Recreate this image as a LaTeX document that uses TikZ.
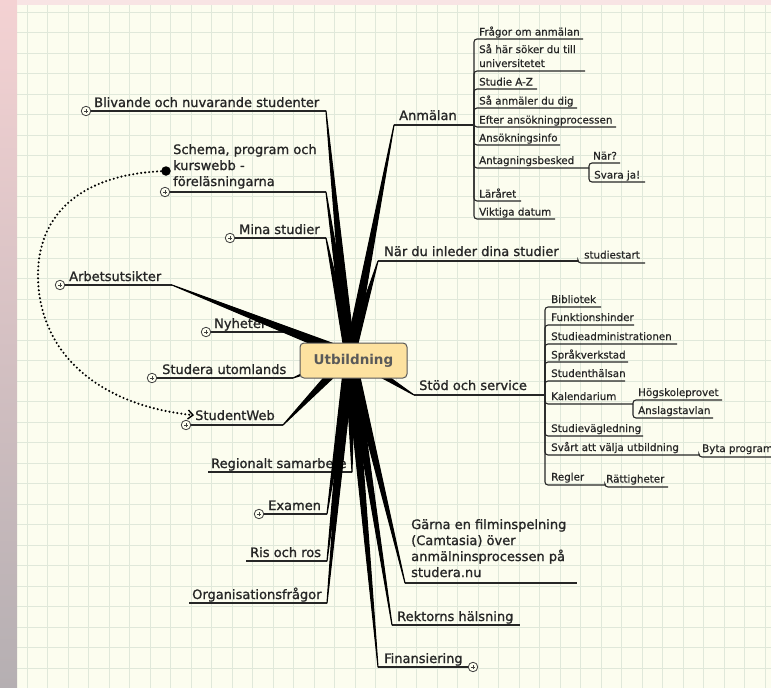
\documentclass[tikz,border=0pt]{standalone}
\usepackage{fontspec}
\setmainfont{DejaVu Sans}
\usetikzlibrary{arrows.meta,calc}
\definecolor{paper}{HTML}{FCFDEF}
\definecolor{gridc}{HTML}{E0E8DA}
\definecolor{hubfill}{HTML}{FDE2A0}
\definecolor{inkc}{HTML}{262626}
\definecolor{pinkedge}{HTML}{F4D2D3}
\definecolor{midedge}{HTML}{E4CBCE}
\definecolor{grayedge}{HTML}{B5AFB2}

\begin{document}
\begin{tikzpicture}[x=1pt, y=-1pt,
    mainlbl/.style={anchor=base west, inner sep=0pt, text=inkc, align=left,
                    font=\fontsize{13}{16}\selectfont\addfontfeatures{FakeBold=1.2}},
    sublbl/.style={anchor=base west, inner sep=0pt, text=inkc, align=left,
                   font=\fontsize{10.3}{14}\selectfont\addfontfeatures{FakeBold=0.6}},
    uline/.style={draw=inkc, line width=1.4pt},
    subline/.style={draw=inkc, line width=1.1pt, rounded corners=3pt},
    fold/.style={circle, draw=black!75, fill=paper, line width=.8pt, minimum size=9.5pt, inner sep=0pt,
                 path picture={\draw[black!75, line width=.7pt]
                   ([xshift=-2pt]path picture bounding box.center) -- ([xshift=2pt]path picture bounding box.center)
                   ([yshift=-2pt]path picture bounding box.center) -- ([yshift=2pt]path picture bounding box.center);}},
    wedge/.style={to path={($(\tikztostart)!5pt!90:(\tikztotarget)$) -- (\tikztotarget)
                           -- ($(\tikztostart)!5pt!-90:(\tikztotarget)$) -- cycle}},
    branch/.style={fill=black, draw=black, line width=1.1pt, line join=round},
    hub/.style={rectangle, rounded corners=4pt, draw=black!65, line width=1pt, fill=hubfill,
                minimum width=107pt, minimum height=35pt, text=black!65, font=\fontsize{13.5}{16}\selectfont\bfseries},
    linkarrow/.style={line width=2.3pt, line cap=round, dash pattern=on 0pt off 4pt,
                      -{Straight Barb[length=5pt, width=9pt, line width=1.4pt]}}
]
\useasboundingbox (0,0) rectangle (771,688);

% paper, grid and the blurred edges
\fill[paper] (0,0) rectangle (771,688);
\foreach \k in {0,...,36} \draw[gridc, line width=.9pt] ({27+20.5*\k},5) -- ({27+20.5*\k},688);
\foreach \k in {0,...,32} \draw[gridc, line width=.9pt] (17,{12.3+20.5*\k}) -- (771,{12.3+20.5*\k});
\shade[top color=pinkedge, middle color=midedge, bottom color=grayedge] (0,0) rectangle (17,688);
\fill[pinkedge!60!white] (17,0) rectangle (771,5);

\coordinate (c) at (350,355);

% left side
\node[mainlbl] (bliv) at (94,107) {Blivande och nuvarande studenter};
\node[fold] (blivF) at (86,111) {};
\coordinate (blivE) at (326,111);
\draw[uline] (blivF) -- (blivE);

\node[mainlbl] (schema) at (173,186) {Schema, program och\\kurswebb -\\föreläsningarna};
\node[fold] (schemaF) at (165,192) {};
\node[circle, fill=black, minimum size=9.5pt, inner sep=0pt] (schemaDot) at (166,171) {};
\coordinate (schemaE) at (326,192);
\draw[uline] (schemaF) -- (schemaE);

\node[mainlbl] (mina) at (239,234) {Mina studier};
\node[fold] (minaF) at (230,238) {};
\coordinate (minaE) at (326,238);
\draw[uline] (minaF) -- (minaE);

\node[mainlbl] (arb) at (69,281) {Arbetsutsikter};
\node[fold] (arbF) at (60,285) {};
\coordinate (arbE) at (172,285);
\draw[uline] (arbF) -- (arbE);

\node[mainlbl] (nyh) at (214,328) {Nyheter};
\node[fold] (nyhF) at (206,332) {};
\coordinate (nyhE) at (292,332);
\draw[uline] (nyhF) -- (nyhE);

\node[mainlbl] (utl) at (162,374) {Studera utomlands};
\node[fold] (utlF) at (152,378) {};
\coordinate (utlE) at (293,378);
\draw[uline] (utlF) -- (utlE);

\node[mainlbl, inner sep=1pt] (sweb) at (194,420) {StudentWeb};
\node[fold] (swebF) at (186,425) {};
\coordinate (swebE) at (283,425);
\draw[uline] (swebF) -- (swebE);

\node[mainlbl] (reg) at (211,468) {Regionalt samarbete};
\coordinate (regS) at (208,472);
\coordinate (regE) at (352,472);
\draw[uline] (regS) -- (regE);

\node[mainlbl] (exa) at (268,510) {Examen};
\node[fold] (exaF) at (259,514) {};
\coordinate (exaE) at (327,514);
\draw[uline] (exaF) -- (exaE);

\node[mainlbl] (ris) at (250,557) {Ris och ros};
\coordinate (risS) at (246,561);
\coordinate (risE) at (327,561);
\draw[uline] (risS) -- (risE);

\node[mainlbl] (org) at (192,599) {Organisationsfrågor};
\coordinate (orgS) at (189,603);
\coordinate (orgE) at (327,603);
\draw[uline] (orgS) -- (orgE);

% right side, bottom
\node[mainlbl] (fin) at (384,663) {Finansiering};
\coordinate (finE) at (378,667);
\node[fold] (finF) at (473,667) {};
\draw[uline] (finE) -- (finF);

\node[mainlbl] (rek) at (397,621) {Rektorns hälsning};
\coordinate (rekE) at (392,625);
\coordinate (rekS) at (520,625);
\draw[uline] (rekE) -- (rekS);

\node[mainlbl] (gar) at (411,577) {Gärna en filminspelning\\(Camtasia) över\\anmälninsprocessen på\\studera.nu};
\coordinate (garE) at (405,583);
\coordinate (garS) at (577,583);
\draw[uline] (garE) -- (garS);

% Anmälan
\node[mainlbl] (anm) at (399,120) {Anmälan};
\coordinate (anmE) at (394,125);
\coordinate (anmB) at (474,125);
\draw[uline] (anmE) -- (anmB);

\node[sublbl] (a1) at (479,35.5) {Frågor om anmälan};
\node[sublbl] (a2) at (479,67) {Så här söker du till\\universitetet};
\node[sublbl] (a3) at (479,85.5) {Studie A-Z};
\node[sublbl] (a4) at (479,104.5) {Så anmäler du dig};
\node[sublbl] (a5) at (479,123.5) {Efter ansökningprocessen};
\node[sublbl] (a6) at (479,141.5) {Ansökningsinfo};
\node[sublbl] (a7) at (479,164) {Antagningsbesked};
\node[sublbl] (a8) at (479,197.5) {Läråret};
\node[sublbl] (a9) at (479,215.5) {Viktiga datum};
\coordinate (a1E) at (583,39);
\coordinate (a2E) at (585,71);
\coordinate (a3E) at (537,89);
\coordinate (a4E) at (577,108);
\coordinate (a5E) at (616,127);
\coordinate (a6E) at (560,145);
\coordinate (a7E) at (589,168);
\coordinate (a8E) at (521,201);
\coordinate (a9E) at (555,219);
\foreach \s in {a1E,a2E,a3E,a4E,a5E,a6E,a7E,a8E,a9E}
  \draw[subline] (anmB) |- (\s);

\node[sublbl] (a71) at (593,159.5) {När?};
\node[sublbl] (a72) at (594,178.5) {Svara ja!};
\coordinate (a71E) at (620,163);
\coordinate (a72E) at (645,182);
\draw[subline] (a7E) |- (a71E);
\draw[subline] (a7E) |- (a72E);

% När du inleder dina studier
\node[mainlbl] (nar) at (384,256) {När du inleder dina studier};
\coordinate (narE) at (378,261);
\coordinate (narB) at (578,261);
\draw[uline] (narE) -- (narB);
\node[sublbl] (start) at (584,258.5) {studiestart};
\coordinate (startE) at (645,263);
\draw[subline] (narB) |- (startE);

% Stöd och service
\node[mainlbl] (sto) at (419,390) {Stöd och service};
\coordinate (stoE) at (414,395);
\coordinate (stoB) at (545,395);
\draw[uline] (stoE) -- (stoB);

\node[sublbl] (s1) at (551,303) {Bibliotek};
\node[sublbl] (s2) at (551,321) {Funktionshinder};
\node[sublbl] (s3) at (551,340) {Studieadministrationen};
\node[sublbl] (s4) at (551,358.5) {Språkverkstad};
\node[sublbl] (s5) at (551,377) {Studenthälsan};
\node[sublbl] (s6) at (551,400) {Kalendarium};
\node[sublbl] (s7) at (551,432) {Studievägledning};
\node[sublbl] (s8) at (551,451) {Svårt att välja utbildning};
\node[sublbl] (s9) at (551,480.5) {Regler};
\coordinate (s1E) at (601,307);
\coordinate (s2E) at (634,325);
\coordinate (s3E) at (677,344);
\coordinate (s4E) at (628,362);
\coordinate (s5E) at (625,381);
\coordinate (s6E) at (633,404);
\coordinate (s7E) at (643,436);
\coordinate (s8E) at (699,455);
\coordinate (s9E) at (605,485);
\foreach \s in {s1E,s2E,s3E,s4E,s5E,s6E,s7E,s8E,s9E}
  \draw[subline] (stoB) |- (\s);

\node[sublbl] (s61) at (638,396) {Högskoleprovet};
\node[sublbl] (s62) at (638,414) {Anslagstavlan};
\coordinate (s61E) at (722,400);
\coordinate (s62E) at (713,418);
\draw[subline] (s6E) |- (s61E);
\draw[subline] (s6E) |- (s62E);

\node[sublbl] (s81) at (702,452) {Byta program};
\coordinate (s81E) at (790,457);
\draw[subline] (s8E) |- (s81E);

\node[sublbl] (s91) at (606,482.5) {Rättigheter};
\coordinate (s91E) at (668,487);
\draw[subline] (s9E) |- (s91E);

% tapered branches from the hub
\foreach \e in {blivE,schemaE,minaE,arbE,nyhE,utlE,swebE,regE,exaE,risE,orgE,
                finE,rekE,garE,anmE,narE,stoE}
  \filldraw[branch] (c) to[wedge] (\e);

\node[hub] (hub) at (353.5,360.5) {Utbildning};

% link from Schema to StudentWeb
\draw[linkarrow] (schemaDot) .. controls (80,175) and (38,215) .. (38,275)
                 .. controls (38,350) and (95,405) .. (sweb.west);

\end{tikzpicture}
\end{document}
